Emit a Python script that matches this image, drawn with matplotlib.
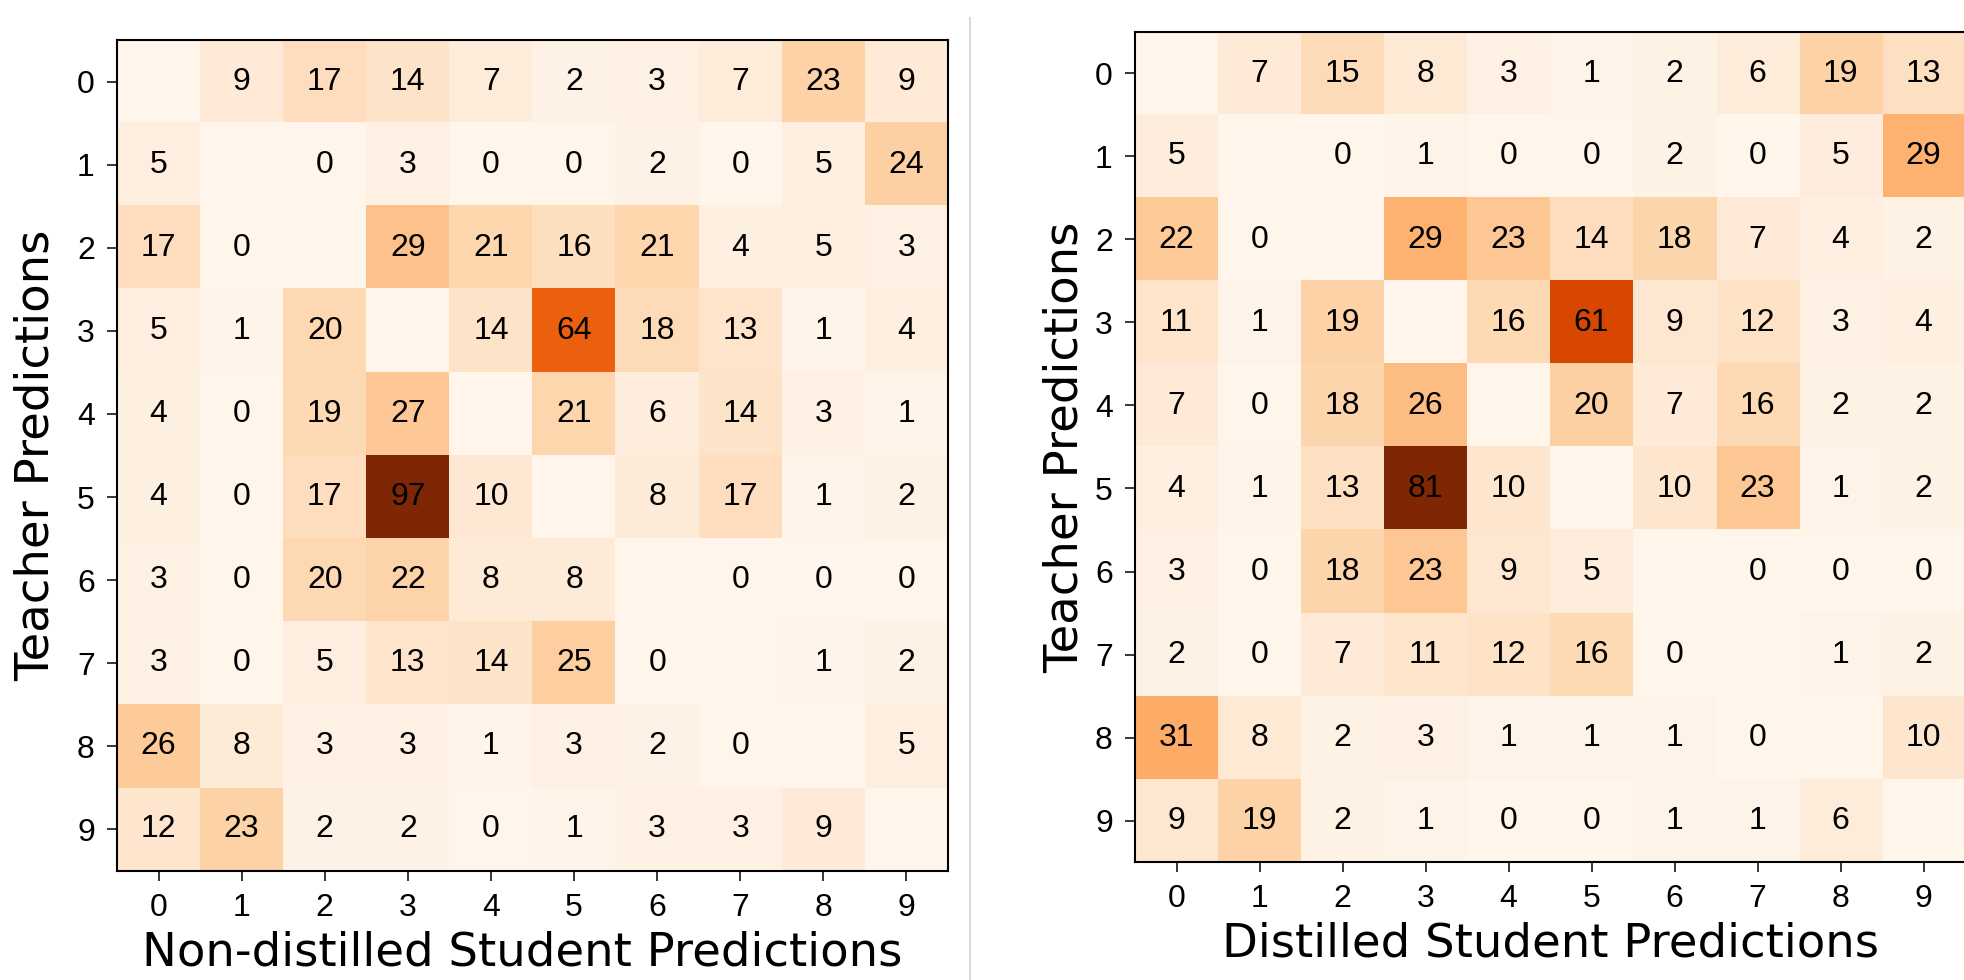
import numpy as np
import matplotlib
matplotlib.use('Agg')
import matplotlib.pyplot as plt
from matplotlib.lines import Line2D

# Off-diagonal confusion counts (diagonal left out)
classes = [0, 1, 2, 3, 4, 5, 6, 7, 8, 9]

non_distilled = [
    [None, 9, 17, 14, 7, 2, 3, 7, 23, 9],
    [5, None, 0, 3, 0, 0, 2, 0, 5, 24],
    [17, 0, None, 29, 21, 16, 21, 4, 5, 3],
    [5, 1, 20, None, 14, 64, 18, 13, 1, 4],
    [4, 0, 19, 27, None, 21, 6, 14, 3, 1],
    [4, 0, 17, 97, 10, None, 8, 17, 1, 2],
    [3, 0, 20, 22, 8, 8, None, 0, 0, 0],
    [3, 0, 5, 13, 14, 25, 0, None, 1, 2],
    [26, 8, 3, 3, 1, 3, 2, 0, None, 5],
    [12, 23, 2, 2, 0, 1, 3, 3, 9, None],
]

distilled = [
    [None, 7, 15, 8, 3, 1, 2, 6, 19, 13],
    [5, None, 0, 1, 0, 0, 2, 0, 5, 29],
    [22, 0, None, 29, 23, 14, 18, 7, 4, 2],
    [11, 1, 19, None, 16, 61, 9, 12, 3, 4],
    [7, 0, 18, 26, None, 20, 7, 16, 2, 2],
    [4, 1, 13, 81, 10, None, 10, 23, 1, 2],
    [3, 0, 18, 23, 9, 5, None, 0, 0, 0],
    [2, 0, 7, 11, 12, 16, 0, None, 1, 2],
    [31, 8, 2, 3, 1, 1, 1, 0, None, 10],
    [9, 19, 2, 1, 0, 0, 1, 1, 6, None],
]

tick_font = 'Liberation Sans'
label_font = 'DejaVu Sans'

cmap = plt.get_cmap('Oranges').copy()
cmap.set_bad(cmap(0.0))


def plot_confusion(ax, counts, xlabel, xlabel_pos, ylabel_x):
    mat = np.array([[np.nan if v is None else v for v in row] for row in counts], dtype=float)
    ax.imshow(np.ma.masked_invalid(mat), cmap=cmap, vmin=0, vmax=np.nanmax(mat),
              aspect='auto', interpolation='nearest')

    # Count labels on every off-diagonal cell
    for i, row in enumerate(counts):
        for j, v in enumerate(row):
            if v is None:
                continue
            ax.text(j, i, str(v), ha='center', va='center', color='black',
                    fontsize=23, family=tick_font)

    ax.set_xticks(range(len(classes)))
    ax.set_yticks(range(len(classes)))
    ax.set_xticklabels([str(c) for c in classes], fontsize=23, family=tick_font)
    ax.set_yticklabels([str(c) for c in classes], fontsize=23, family=tick_font)
    ax.tick_params(length=7, width=1.1, pad=9, color='black')
    for sp in ax.spines.values():
        sp.set_linewidth(1.5)

    ax.set_xlabel(xlabel, fontsize=33.5, family=label_font, va='top')
    ax.xaxis.set_label_coords(*xlabel_pos)
    ax.set_ylabel('Teacher Predictions', fontsize=33.5, family=label_font, va='center')
    ax.yaxis.set_label_coords(ylabel_x, 0.5)


fig = plt.figure(figsize=(19.64, 9.8), dpi=100)

ax1 = fig.add_axes([117 / 1964, 1 - 871 / 980, 831 / 1964, 831 / 980])
plot_confusion(ax1, non_distilled, 'Non-distilled Student Predictions', (0.488, -0.071), -0.0975)

ax2 = fig.add_axes([1135 / 1964, 1 - 862 / 980, 830 / 1964, 830 / 980])
plot_confusion(ax2, distilled, 'Distilled Student Predictions', (0.5, -0.072), -0.0843)

# Thin separator between the two panels
fig.add_artist(Line2D([970 / 1964, 970 / 1964], [0, 1 - 18 / 980],
                      transform=fig.transFigure, color='#d9d9d9', lw=1.5))

fig.savefig('out.png', dpi=100)
